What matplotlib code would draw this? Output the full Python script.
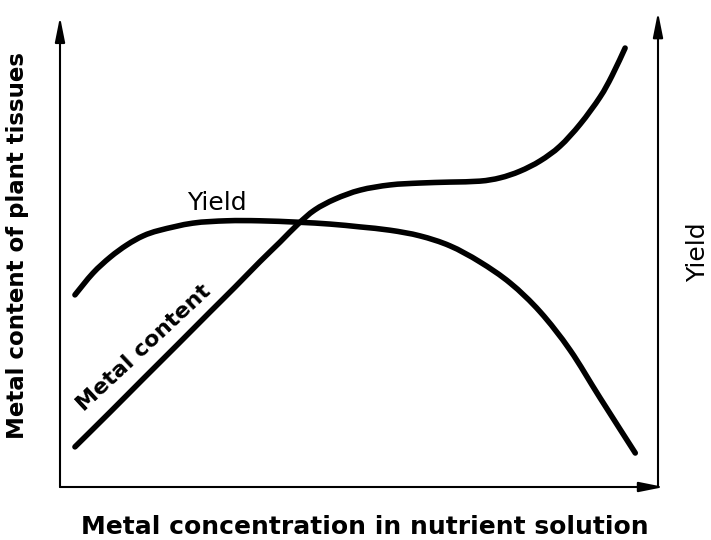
import matplotlib
matplotlib.use("Agg")
import matplotlib.pyplot as plt
from matplotlib.path import Path
from matplotlib.patches import PathPatch

# Schematic data (arbitrary units 0-100)
metal_x = [2.5, 8.4, 13.9, 19.6, 25.1, 29.3, 33.4, 36.8, 39.8, 42.6, 46.0, 50.2, 55.2, 60.2,
           65.2, 70.2, 73.6, 76.9, 80.3, 83.6, 87.0, 90.3, 92.3, 94.5]
metal_y = [8.5, 15.9, 22.9, 30.1, 37.1, 42.4, 47.7, 51.9, 55.7, 58.7, 61.0, 62.9, 64.0, 64.4,
           64.6, 64.8, 65.5, 66.9, 69.1, 72.2, 76.9, 82.6, 87.1, 93.0]

yield_x = [2.5, 5.5, 8.4, 11.2, 13.9, 16.7, 22.2, 27.9, 33.4, 39.8, 45.2, 50.2, 55.2, 60.2,
           65.2, 70.2, 75.3, 80.3, 85.3, 90.3, 96.2]
yield_y = [40.7, 45.3, 48.7, 51.3, 53.2, 54.4, 55.9, 56.4, 56.4, 56.1, 55.7, 55.1, 54.4, 53.2,
           51.1, 47.7, 43.2, 37.1, 29.0, 18.9, 7.2]


def smooth_path(xs, ys):
    """Bezier path (Catmull-Rom tangents) passing through every data point."""
    pts = list(zip(xs, ys))
    n = len(pts)
    verts = [pts[0]]
    codes = [Path.MOVETO]
    for i in range(n - 1):
        p0 = pts[i - 1] if i > 0 else pts[i]
        p1 = pts[i]
        p2 = pts[i + 1]
        p3 = pts[i + 2] if i + 2 < n else pts[i + 1]
        c1 = (p1[0] + (p2[0] - p0[0]) / 6, p1[1] + (p2[1] - p0[1]) / 6)
        c2 = (p2[0] - (p3[0] - p1[0]) / 6, p2[1] - (p3[1] - p1[1]) / 6)
        verts += [c1, c2, p2]
        codes += [Path.CURVE4] * 3
    return Path(verts, codes)


W, H = 711, 540
fig = plt.figure(figsize=(W / 100, H / 100), dpi=100)
ax = fig.add_axes([60 / W, (H - 487) / H, (658 - 60) / W, (487 - 15) / H])
ax.set_xlim(0, 100)
ax.set_ylim(0, 100)
for s in ax.spines.values():
    s.set_visible(False)
ax.set_xticks([])
ax.set_yticks([])

lw_curve = 4.0
for xs, ys in [(metal_x, metal_y), (yield_x, yield_y)]:
    ax.add_patch(PathPatch(smooth_path(xs, ys), facecolor="none", edgecolor="black",
                           lw=lw_curve, capstyle="round", joinstyle="round"))

arrow_kw = dict(arrowstyle="-|>,head_length=0.75,head_width=0.15", lw=1.5, color="black",
                mutation_scale=20, shrinkA=0, shrinkB=0)
ax.annotate("", xy=(0, 0.996), xytext=(0, 0), xycoords="axes fraction", arrowprops=arrow_kw, annotation_clip=False)
ax.annotate("", xy=(1, 1.006), xytext=(1, 0), xycoords="axes fraction", arrowprops=arrow_kw, annotation_clip=False)
ax.annotate("", xy=(1.01, 0), xytext=(0, 0), xycoords="axes fraction", arrowprops=arrow_kw, annotation_clip=False)

fig.text(365 / W, 1 - 527 / H, "Metal concentration in nutrient solution", ha="center", va="center",
         fontsize=18, fontweight="bold", family="DejaVu Sans")
fig.text(18 / W, 1 - 246 / H, "Metal content of plant tissues", ha="center", va="center", rotation=90,
         fontsize=16.5, fontweight="bold", family="DejaVu Sans")
fig.text(698 / W, 1 - 252 / H, "Yield", ha="center", va="center", rotation=90,
         fontsize=18, family="DejaVu Sans")

# curve labels
ax.text((217 - 60) / 5.98, (487 - 203) / 4.72, "Yield", ha="center", va="center",
        fontsize=18, family="DejaVu Sans")
ax.text((144 - 60) / 5.98, (487 - 348) / 4.72, "Metal content", ha="center", va="center",
        rotation=43, rotation_mode="anchor", fontsize=16, fontweight="bold", family="DejaVu Sans")

fig.savefig("out.png", dpi=100, facecolor="white")
